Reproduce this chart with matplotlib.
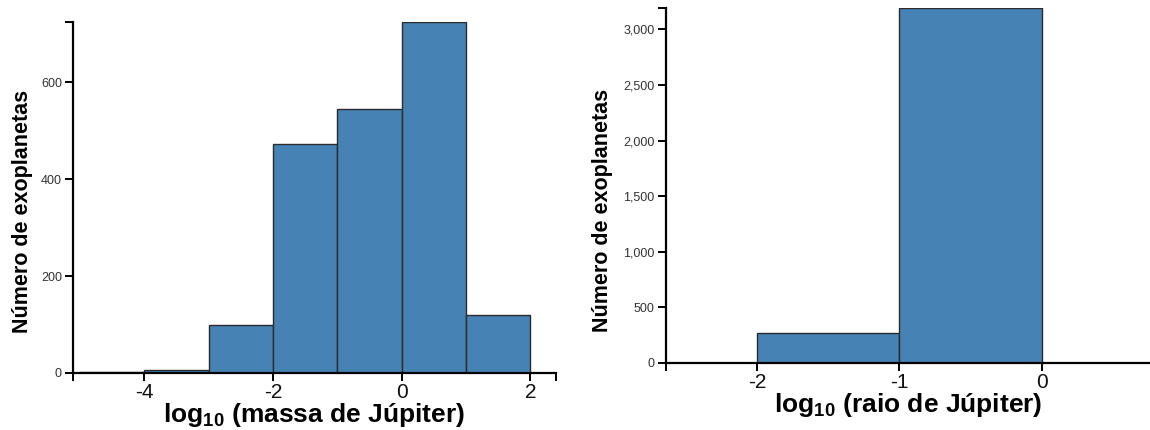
'''
Two histograms of exoplanet counts: log10 of Jupiter mass and log10 of Jupiter radius.
Bars are drawn from bin edges and counts read off the reference picture.
'''

import matplotlib.pyplot as plt
from matplotlib.ticker import FuncFormatter

plt.rcParams['font.family'] = ['Liberation Sans', 'DejaVu Sans']
plt.rcParams['mathtext.fontset'] = 'custom'
plt.rcParams['mathtext.rm'] = 'Liberation Sans:bold'
plt.rcParams['mathtext.bf'] = 'Liberation Sans:bold'
plt.rcParams['axes.unicode_minus'] = False

# Data
mass_edges = [-5, -4, -3, -2, -1, 0, 1, 2]
mass_counts = [2, 7, 98, 473, 544, 724, 120]
mass_xticks = [-4, -2, 0, 2]
mass_yticks = [0, 200, 400, 600]

radius_edges = [-2, -1, 0]
radius_counts = [270, 3195]
radius_xticks = [-2, -1, 0]
radius_yticks = [0, 500, 1000, 1500, 2000, 2500, 3000]

bar_color = '#4682b4'
edge_color = '#2b2b2b'


def draw_hist(ax, edges, counts, xlim, xticks, yticks, xlabel, ylab_xy,
              end_tick=True):
    widths = [b - a for a, b in zip(edges[:-1], edges[1:])]
    ax.bar(edges[:-1], counts, width=widths, align='edge',
           color=bar_color, edgecolor=edge_color, linewidth=1.0, zorder=2)
    ax.set_xlim(*xlim)
    ax.set_ylim(0, max(counts))
    ax.set_xticks(xticks)
    ax.set_yticks(yticks)
    # outer ticks at the ends of the axis lines
    ax.set_xticks([xlim[0], xlim[1]] if end_tick else [xlim[0]], minor=True)
    ax.set_yticks([max(counts)], minor=True)
    ax.yaxis.set_major_formatter(FuncFormatter(lambda v, p: f'{int(v):,}'))
    for s in ['top', 'right']:
        ax.spines[s].set_visible(False)
    for s in ['left', 'bottom']:
        ax.spines[s].set_linewidth(1.6)
        ax.spines[s].set_zorder(3)
    ax.tick_params(axis='both', which='both', direction='out', length=6,
                   width=1.4, color='black')
    ax.tick_params(axis='x', labelsize=15, pad=1, labelcolor='#111111')
    ax.tick_params(axis='y', labelsize=9, pad=2, labelcolor='#333333')
    ax.set_xlabel(xlabel, fontsize=19, fontweight='bold', labelpad=-0.5)
    ax.set_ylabel('Número de exoplanetas', fontsize=15.5, fontweight='bold')
    ax.yaxis.set_label_coords(*ylab_xy)


fig = plt.figure(figsize=(11.5, 4.3), dpi=100)
ax1 = fig.add_axes([0.0635, 0.1326, 0.42, 0.816])
ax2 = fig.add_axes([0.579, 0.156, 0.421, 0.826])

draw_hist(ax1, mass_edges, mass_counts, (-5.11, 2.40), mass_xticks, mass_yticks,
          r'log$_{10}$ (massa de Júpiter)', (-0.082, 0.46))
draw_hist(ax2, radius_edges, radius_counts, (-2.64, 0.76), radius_xticks,
          radius_yticks, r'log$_{10}$ (raio de Júpiter)', (-0.109, 0.43),
          end_tick=False)

fig.savefig('out.png', dpi=100)
